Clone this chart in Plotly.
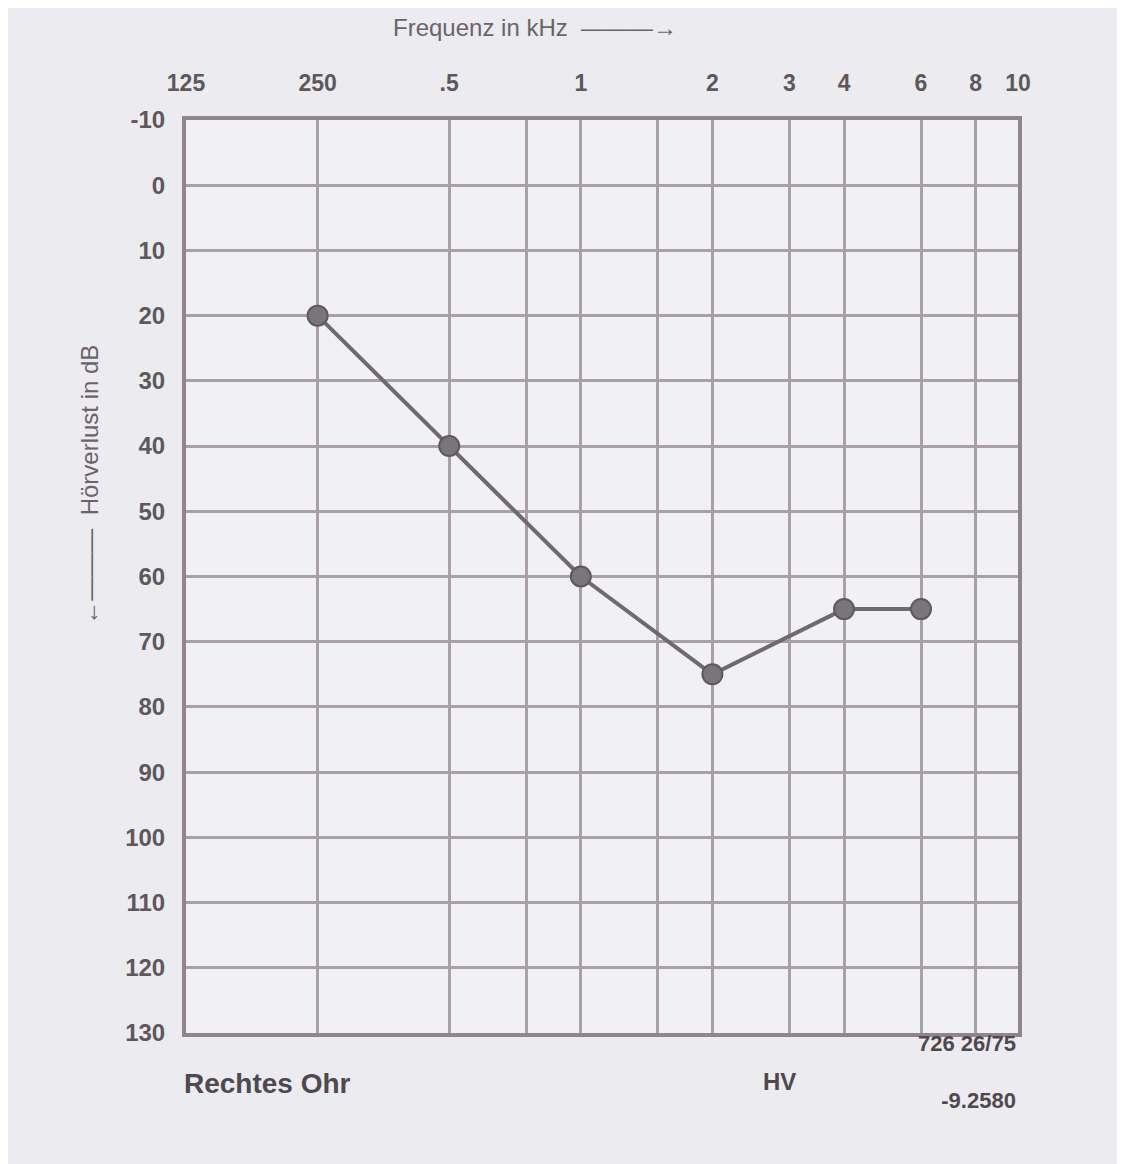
import plotly.graph_objects as go
import math

# Data (audiogram, right ear)
freqs_hz = [250, 500, 1000, 2000, 4000, 6000]
loss_db = [20, 40, 60, 75, 65, 65]

x_tick_vals = [125, 250, 500, 750, 1000, 1500, 2000, 3000, 4000, 6000, 8000, 10000]
x_tick_text = ["125", "250", ".5", "", "1", "", "2", "3", "4", "6", "8", "10"]
y_tick_vals = [-10, 0, 10, 20, 30, 40, 50, 60, 70, 80, 90, 100, 110, 120, 130]
y_tick_text = [str(v) for v in y_tick_vals]

ink = "#5e585c"
grid = "#a99fa6"

fig = go.Figure()
fig.add_trace(go.Scatter(
    x=freqs_hz, y=loss_db, mode="lines+markers",
    line=dict(color="#6f6a6e", width=4),
    marker=dict(size=20, color="#7a7579", line=dict(color="#5e595d", width=2)),
    showlegend=False,
))

fig.update_layout(
    width=1125, height=1164,
    margin=dict(l=178, r=115, t=112, b=139),
    paper_bgcolor="#ebebf0",
    plot_bgcolor="#f1f1f5",
    font=dict(family="Liberation Sans, DejaVu Sans, sans-serif", color=ink, size=22),
    xaxis=dict(
        type="log", side="top",
        range=[math.log10(125), math.log10(10000)],
        tickvals=x_tick_vals, ticktext=x_tick_text,
        showgrid=True, gridcolor=grid, gridwidth=3,
        showline=True, linecolor="#8f858c", linewidth=4, mirror=True,
        ticks="", ticklabelstandoff=16,
        tickfont=dict(size=23, color=ink, weight="bold"),
        zeroline=False,
    ),
    yaxis=dict(
        range=[130, -10],
        tickvals=y_tick_vals, ticktext=y_tick_text,
        showgrid=True, gridcolor=grid, gridwidth=3,
        showline=True, linecolor="#8f858c", linewidth=4, mirror=True,
        ticks="", ticklabelstandoff=12,
        tickfont=dict(size=24, color=ink, weight="bold"),
        zeroline=False,
    ),
)

fig.add_annotation(text="Frequenz in kHz  ———→", xref="paper", yref="paper",
                   x=0.42, y=1.0, yshift=108, showarrow=False,
                   font=dict(size=24, color="#6a6468"), xanchor="center")
fig.add_annotation(text="←———  Hörverlust in dB", xref="paper", yref="paper",
                   x=0, xshift=-112, y=0.6, textangle=-90, showarrow=False,
                   font=dict(size=24, color="#6a6468"))
fig.add_annotation(text="<b>Rechtes Ohr</b>", xref="paper", yref="paper",
                   x=0, y=0, yshift=-68, xshift=-4, xanchor="left", showarrow=False,
                   font=dict(size=28, color="#4f494d"))
fig.add_annotation(text="<b>HV</b>", xref="paper", yref="paper",
                   x=0.735, y=0, yshift=-64, showarrow=False,
                   font=dict(size=24, color="#4f494d"))
fig.add_annotation(text="<b>726 26/75</b><br><br><b>-9.2580</b>", xref="paper", yref="paper",
                   x=1.0, y=0, yshift=4, xanchor="right", yanchor="top", align="right",
                   showarrow=False,
                   font=dict(size=22, color="#4f494d"))

fig.write_html("out.html")
